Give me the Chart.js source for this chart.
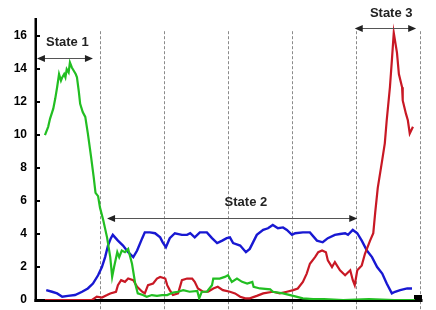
<!DOCTYPE html>
<html>
<head>
<meta charset="utf-8">
<script src="https://cdn.jsdelivr.net/npm/chart.js@4/dist/chart.umd.min.js"></script>
<style>
html,body{margin:0;padding:0;background:#fff;}
#wrap{width:436px;height:310px;}
</style>
</head>
<body>
<div id="wrap"><canvas id="c" width="436" height="310"></canvas></div>
<script>
// y tick labels shown
const yTicks = [0, 2, 4, 6, 8, 10, 12, 14, 16];
// time positions of the dashed separators
const separators = [10, 20, 30, 40, 50, 60];

// Series values: [time, value]
const greenSeries = [[1.4,10.0],[1.9,10.5],[2.2,11.0],[2.7,11.6],[3.0,12.2],[3.3,12.9],[3.6,13.7],[3.9,13.3],[4.1,13.5],[4.4,13.7],[4.6,13.5],[4.8,14.0],[5.1,13.8],[5.3,14.4],[5.6,14.1],[5.9,13.9],[6.2,13.7],[6.4,13.5],[6.7,12.6],[6.9,11.9],[7.3,11.4],[7.7,11.1],[8.1,10.1],[8.6,8.7],[9.0,7.5],[9.3,6.5],[9.7,6.3],[10.0,5.6],[10.5,4.85],[11.1,3.8],[11.6,2.6],[11.9,1.4],[12.2,2.0],[12.7,2.9],[13.0,2.6],[13.4,3.0],[13.9,2.9],[14.4,3.1],[15.0,2.2],[15.5,1.0],[15.9,0.4],[16.7,0.3],[17.3,0.2],[18.1,0.3],[18.9,0.25],[19.7,0.3],[20.5,0.3],[21.4,0.45],[22.2,0.5],[23.0,0.6],[24.0,0.5],[25.2,0.55],[25.5,0.1],[25.9,0.5],[26.7,0.5],[27.5,0.9],[27.7,1.3],[28.7,1.3],[29.5,1.4],[30.0,1.5],[30.6,1.1],[31.4,1.3],[32.2,1.1],[33.0,1.0],[33.8,1.1],[34.0,0.8],[35.0,0.7],[36.6,0.65],[37.0,0.5],[38.6,0.4],[40.2,0.25],[41.7,0.1],[43.3,0.05],[45,0.05],[48,0.0],[52,0.05],[56,0.0],[59.2,0.0]];

const blueSeries = [[1.6,0.6],[2.5,0.5],[3.3,0.4],[4.1,0.2],[5.0,0.25],[6.1,0.3],[7.2,0.5],[8.1,0.7],[8.9,1.0],[9.7,1.5],[10.3,2.0],[10.8,2.6],[11.25,3.3],[11.7,3.75],[12.0,3.95],[12.8,3.6],[13.6,3.3],[14.4,2.9],[15.2,2.6],[15.8,3.0],[16.6,3.75],[17.0,4.1],[17.8,4.1],[18.6,4.05],[19.4,3.8],[19.8,3.5],[20.3,3.2],[20.9,3.75],[21.7,4.05],[22.8,3.95],[23.6,3.95],[24.1,4.05],[24.8,3.8],[25.6,4.1],[26.7,4.1],[27.5,3.75],[28.3,3.45],[29.1,3.6],[29.8,3.75],[30.3,3.8],[30.8,3.45],[31.9,3.3],[32.8,2.9],[33.4,3.1],[34.5,3.95],[35.5,4.25],[36.25,4.35],[37.0,4.55],[37.8,4.35],[38.6,4.4],[39.2,4.25],[40.0,3.95],[40.5,4.05],[41.7,4.1],[42.8,4.1],[43.9,3.6],[44.8,3.5],[45.6,3.75],[46.7,3.95],[47.5,4.0],[48.3,4.05],[48.75,3.95],[49.5,4.25],[50.2,4.05],[50.9,3.6],[51.7,3.0],[52.5,2.6],[53.3,2.0],[54.1,1.6],[54.8,1.0],[55.6,0.4],[56.1,0.5],[56.9,0.6],[58.0,0.7],[58.75,0.7]];

const redSeries = [[1.4,0.0],[8.75,0.0],[9.5,0.2],[10.3,0.15],[11.1,0.3],[11.6,0.4],[12.5,0.5],[12.8,0.9],[13.3,1.2],[13.9,1.1],[14.4,1.3],[15.2,1.2],[15.8,0.8],[16.6,0.5],[17.0,0.4],[17.5,0.9],[18.3,1.0],[18.9,1.3],[19.4,1.4],[20.2,1.3],[20.5,0.9],[20.9,0.6],[21.4,0.3],[22.2,0.4],[22.8,1.2],[23.6,1.3],[24.4,1.3],[24.8,1.1],[25.3,0.7],[26.1,0.5],[26.9,0.5],[27.7,0.7],[28.4,0.8],[29.2,0.6],[30.3,0.5],[31.1,0.4],[31.9,0.2],[32.7,0.1],[33.4,0.1],[34.5,0.25],[35.5,0.4],[37.0,0.5],[38.1,0.4],[39.2,0.5],[40.2,0.6],[40.9,0.7],[41.7,1.1],[42.3,1.6],[42.8,2.2],[43.6,2.6],[44.1,2.9],[44.7,3.0],[45.3,2.9],[45.6,2.4],[46.25,2.0],[46.7,2.3],[47.5,1.8],[48.3,1.5],[49.1,1.8],[49.5,1.2],[49.8,0.9],[50.2,1.8],[50.9,2.1],[51.4,2.8],[52.2,3.6],[52.7,4.05],[53.0,5.3],[53.4,6.8],[54.1,8.5],[54.5,9.5],[54.8,10.9],[55.3,12.9],[55.6,14.5],[55.9,16.2],[56.4,15.0],[56.7,13.7],[57.2,12.9],[57.3,12.1],[57.8,11.3],[58.1,10.9],[58.4,10.1],[58.9,10.5]];

// State annotations: label, arrow start/end time, arrow value, label time/value
const stateLabels = ['State 1', 'State 2', 'State 3'];
const stateArrowFrom = [0.15, 11.1, 49.8];
const stateArrowTo = [8.9, 50.2, 59.4];
const stateArrowAt = [14.7, 5.0, 16.5];
const stateTextX = [4.9, 32.8, 55.5];
const stateTextY = [15.6, 5.9, 17.4];

const toPts = s => s.map(p => ({x: p[0], y: p[1]}));

function arrowHead(ctx, x, y, dir) {
  ctx.beginPath();
  ctx.moveTo(x, y);
  ctx.lineTo(x - dir * 8, y - 3.5);
  ctx.lineTo(x - dir * 8, y + 3.5);
  ctx.closePath();
  ctx.fill();
}

const decor = {
  id: 'decor',
  beforeDatasetsDraw(chart) {
    const ctx = chart.ctx, xs = chart.scales.x, ys = chart.scales.y, a = chart.chartArea;
    ctx.save();
    ctx.strokeStyle = '#8a8a8a';
    ctx.lineWidth = 1;
    ctx.setLineDash([3, 2]);
    const top = ys.getPixelForValue(16.3);
    separators.forEach(v => {
      const px = Math.round(xs.getPixelForValue(v)) + 0.5;
      ctx.beginPath();
      ctx.moveTo(px, top);
      ctx.lineTo(px, a.bottom + 10);
      ctx.stroke();
    });
    ctx.setLineDash([]);
    // axes
    ctx.fillStyle = '#000';
    ctx.fillRect(a.left - 1.5, a.top, 2.5, a.bottom - a.top + 2);
    const xEnd = xs.getPixelForValue(60);
    ctx.fillRect(a.left - 1.5, a.bottom - 1, xEnd - a.left + 4, 3);
    ctx.fillRect(xEnd - 6, a.bottom - 5, 8, 7);
    // inner tick marks
    yTicks.forEach(v => {
      const py = Math.round(ys.getPixelForValue(v));
      ctx.fillRect(a.left, py - 1, 4, 2);
    });
    ctx.restore();
  },
  afterDatasetsDraw(chart) {
    const ctx = chart.ctx, xs = chart.scales.x, ys = chart.scales.y;
    ctx.save();
    // state arrows and labels
    ctx.strokeStyle = '#555';
    ctx.lineWidth = 1.2;
    ctx.fillStyle = '#222';
    stateLabels.forEach((lab, i) => {
      const x1 = xs.getPixelForValue(stateArrowFrom[i]);
      const x2 = xs.getPixelForValue(stateArrowTo[i]);
      const y = Math.round(ys.getPixelForValue(stateArrowAt[i])) + 0.5;
      ctx.beginPath();
      ctx.moveTo(x1 + 4, y);
      ctx.lineTo(x2 - 4, y);
      ctx.stroke();
      arrowHead(ctx, x1, y, -1);
      arrowHead(ctx, x2, y, 1);
      ctx.font = 'bold 13px "Liberation Sans", Arial, sans-serif';
      ctx.textAlign = 'center';
      ctx.textBaseline = 'middle';
      ctx.fillText(lab, xs.getPixelForValue(stateTextX[i]), ys.getPixelForValue(stateTextY[i]));
    });
    ctx.restore();
  }
};

new Chart(document.getElementById('c'), {
  type: 'line',
  data: {
    datasets: [
      {data: toPts(greenSeries), borderColor: 'rgb(34,190,34)', borderWidth: 2.2},
      {data: toPts(redSeries), borderColor: 'rgb(200,24,36)', borderWidth: 2.2},
      {data: toPts(blueSeries), borderColor: 'rgb(24,24,210)', borderWidth: 2.4}
    ]
  },
  options: {
    responsive: false,
    animation: false,
    events: [],
    layout: {padding: {top: 18, bottom: 10, left: 0, right: 16}},
    elements: {line: {tension: 0, fill: false}, point: {radius: 0}},
    plugins: {legend: {display: false}, tooltip: {enabled: false}},
    scales: {
      x: {type: 'linear', min: 0, max: 60, display: false},
      y: {
        min: 0, max: 17.1,
        afterBuildTicks: s => { s.ticks = yTicks.map(v => ({value: v})); },
        afterFit: s => { s.width = 36; s.paddingTop = 0; s.paddingBottom = 0; },
        border: {display: false},
        grid: {display: false, drawTicks: false},
        ticks: {
          padding: 9,
          color: '#000',
          font: {family: '"Liberation Sans", Arial, sans-serif', size: 12, weight: 'bold'}
        }
      }
    }
  },
  plugins: [decor]
});
</script>
</body>
</html>
